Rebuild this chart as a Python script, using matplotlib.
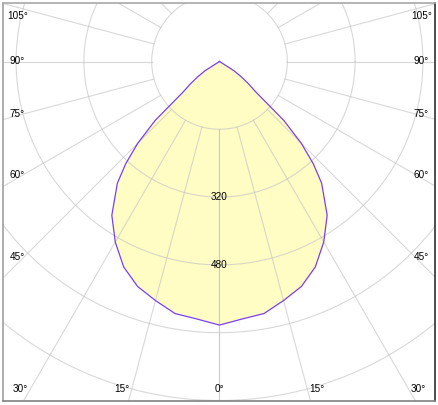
import numpy as np
import matplotlib
matplotlib.use("Agg")
import matplotlib.pyplot as plt

plt.rcParams['font.family'] = ['Liberation Sans', 'DejaVu Sans']

# luminous intensity, symmetric about 0 deg
angles_deg = [0, 5, 10, 15, 20, 25, 30, 35, 40, 42.5, 45, 47.5, 50, 52.5, 55, 57.5,
              60, 65, 70, 75, 80, 85, 90]
intensity = [622, 610, 604, 584, 565, 535, 492, 443, 375, 328, 273, 206, 112, 86, 62, 40,
             0, 0, 0, 0, 0, 0, 0]

ring_values = [160, 320, 480, 640, 800, 960]
ring_labels = [320, 480]
ray_angles = list(range(0, 181, 15))
side_labels = [45, 60, 75, 90, 105]
bottom_labels = [0, 15, 30]

# pixel scale of the original: 160 cd -> ~67.8 px
s = 67.8 / 160.0
cx, cy = 219.5, 61.5
W, H = 439, 405

fig = plt.figure(figsize=(W / 100, H / 100), dpi=100)
ax = fig.add_axes([3 / W, (H - 401) / H, 432 / W, 398 / H])
ax.set_xlim(-(cx - 3) / s, (435 - cx) / s)
ax.set_ylim(-(401 - cy) / s, (cy - 3) / s)
ax.set_xticks([])
ax.set_yticks([])
ax.spines['left'].set_color('#a0a0a0')
ax.spines['top'].set_color('#a8a8a8')
ax.spines['right'].set_color('#303030')
ax.spines['bottom'].set_color('#808080')
for sp in ax.spines.values():
    sp.set_linewidth(1.2)

# curve, mirrored to both sides
th = np.radians(np.array(angles_deg, dtype=float))
I = np.array(intensity, dtype=float)
th_full = np.concatenate([-th[::-1], th[1:]])
I_full = np.concatenate([I[::-1], I[1:]])
xs = I_full * np.sin(th_full)
ys = -I_full * np.cos(th_full)
ax.fill(xs, ys, color='#fffcc4', zorder=1, lw=0)

grid_kw = dict(color='#c4c4c4', lw=0.8, alpha=0.65, zorder=2)
t = np.linspace(0, 2 * np.pi, 400)
for rv in ring_values:
    ax.plot(rv * np.cos(t), rv * np.sin(t), **grid_kw)
r0, r1 = ring_values[0], 2000
for a in ray_angles:
    ar = np.radians(a)
    for sgn in (-1, 1):
        ax.plot([sgn * r0 * np.sin(ar), sgn * r1 * np.sin(ar)],
                [-r0 * np.cos(ar), -r1 * np.cos(ar)], **grid_kw)

ax.plot(xs, ys, color='#7b3ff2', lw=0.9, zorder=3)

fs = 7.2
for rv in ring_labels:
    ax.text(0, -rv, str(rv), ha='center', va='center', fontsize=fs, zorder=4)

# angle labels along frame edges
side_d = 196 / s
side_x = 202 / s
y_top = (cy - 16) / s
for a in side_labels:
    ar = np.radians(a)
    y = -side_d / np.tan(ar) if a != 90 else 0.0
    y = min(y, y_top)
    for sgn in (-1, 1):
        ax.text(sgn * side_x, y, f"{a}°", ha='center', va='center', fontsize=fs, zorder=4)

bot_d = 364 / s
y_bot = -(389.3 - cy) / s
x_max = 199 / s
for a in bottom_labels:
    x = min(bot_d * np.tan(np.radians(a)), x_max)
    for sgn in ((1,) if a == 0 else (-1, 1)):
        ax.text(sgn * x, y_bot, f"{a}°", ha='center', va='center', fontsize=fs, zorder=4)

fig.savefig('out.png', dpi=100)
